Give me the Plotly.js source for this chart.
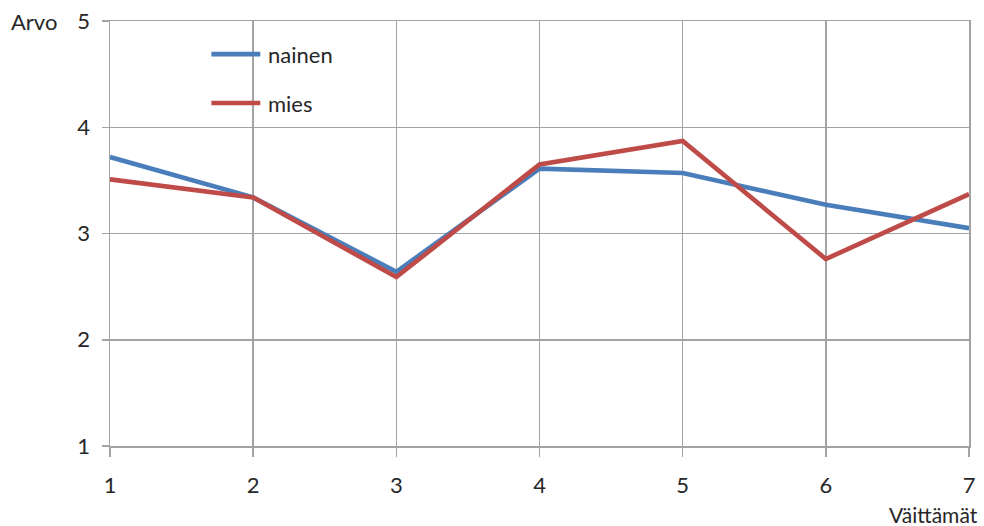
<!DOCTYPE html>
<html>
<head>
<meta charset="utf-8">
<script src="https://cdn.plot.ly/plotly-3.0.1.min.js"></script>
<style>
  html, body { margin: 0; padding: 0; background: #ffffff; }
  #chart { width: 984px; height: 526px; }
</style>
</head>
<body>
<div id="chart"></div>
<script>
// Väittämät 1–7, keskiarvot sukupuolittain
const statements = [1, 2, 3, 4, 5, 6, 7];
const nainenValues = [3.72, 3.34, 2.64, 3.61, 3.57, 3.27, 3.05];
const miesValues = [3.51, 3.34, 2.59, 3.65, 3.87, 2.76, 3.37];
const seriesNames = ['nainen', 'mies'];
const seriesColors = ['#4a7ebb', '#be4b48'];
const yTicks = [1, 2, 3, 4, 5];

const font = 'Lato, "Open Sans", sans-serif';
const gridColor = '#a3a3a3';
const textColor = '#262626';

const traces = [nainenValues, miesValues].map((vals, i) => ({
  x: statements,
  y: vals,
  name: seriesNames[i],
  type: 'scatter',
  mode: 'lines',
  line: { color: seriesColors[i], width: 4.6 },
  showlegend: false,
  hoverinfo: 'x+y'
}));

// Legend drawn as swatch lines and labels in the upper left of the plot
const legendY = [0.922, 0.807];
const legendShapes = seriesNames.map((n, i) => ({
  type: 'line', xref: 'paper', yref: 'paper',
  x0: 0.118, x1: 0.175, y0: legendY[i], y1: legendY[i],
  line: { color: seriesColors[i], width: 4.6 }
}));
const legendLabels = seriesNames.map((n, i) => ({
  text: n, xref: 'paper', yref: 'paper',
  x: 0.182, y: legendY[i], xanchor: 'left', yanchor: 'middle',
  showarrow: false, font: { family: font, size: 22, color: textColor }
}));

const layout = {
  width: 984, height: 526,
  margin: { l: 110, r: 15, t: 21, b: 80 },
  paper_bgcolor: '#ffffff', plot_bgcolor: '#ffffff',
  font: { family: font, size: 22, color: textColor },
  xaxis: {
    range: [1, 7], tickvals: statements, ticktext: statements.map(String),
    showgrid: true, gridcolor: gridColor, gridwidth: 1.5,
    showline: true, linecolor: gridColor, linewidth: 1.5, mirror: true,
    ticks: 'outside', ticklen: 9, tickwidth: 1.5, tickcolor: gridColor,
    ticklabelstandoff: 10,
    zeroline: false, fixedrange: true
  },
  yaxis: {
    range: [1, 5], tickvals: yTicks, ticktext: yTicks.map(String),
    showgrid: true, gridcolor: gridColor, gridwidth: 1.5,
    showline: true, linecolor: gridColor, linewidth: 1.5, mirror: true,
    ticks: 'outside', ticklen: 7, tickwidth: 1.5, tickcolor: gridColor,
    ticklabelstandoff: 7,
    zeroline: false, fixedrange: true
  },
  shapes: legendShapes,
  annotations: legendLabels.concat([
    { text: 'Arvo', xref: 'paper', yref: 'paper', x: -0.117, y: 1.0,
      xanchor: 'left', yanchor: 'middle', showarrow: false,
      font: { family: font, size: 22, color: textColor } },
    { text: 'Väittämät', xref: 'paper', yref: 'paper', x: 1.012, y: -0.16,
      xanchor: 'right', yanchor: 'middle', showarrow: false, borderpad: 0,
      font: { family: font, size: 21, color: textColor } }
  ])
};

Plotly.newPlot('chart', traces, layout, { displayModeBar: false, staticPlot: true });
</script>
</body>
</html>
